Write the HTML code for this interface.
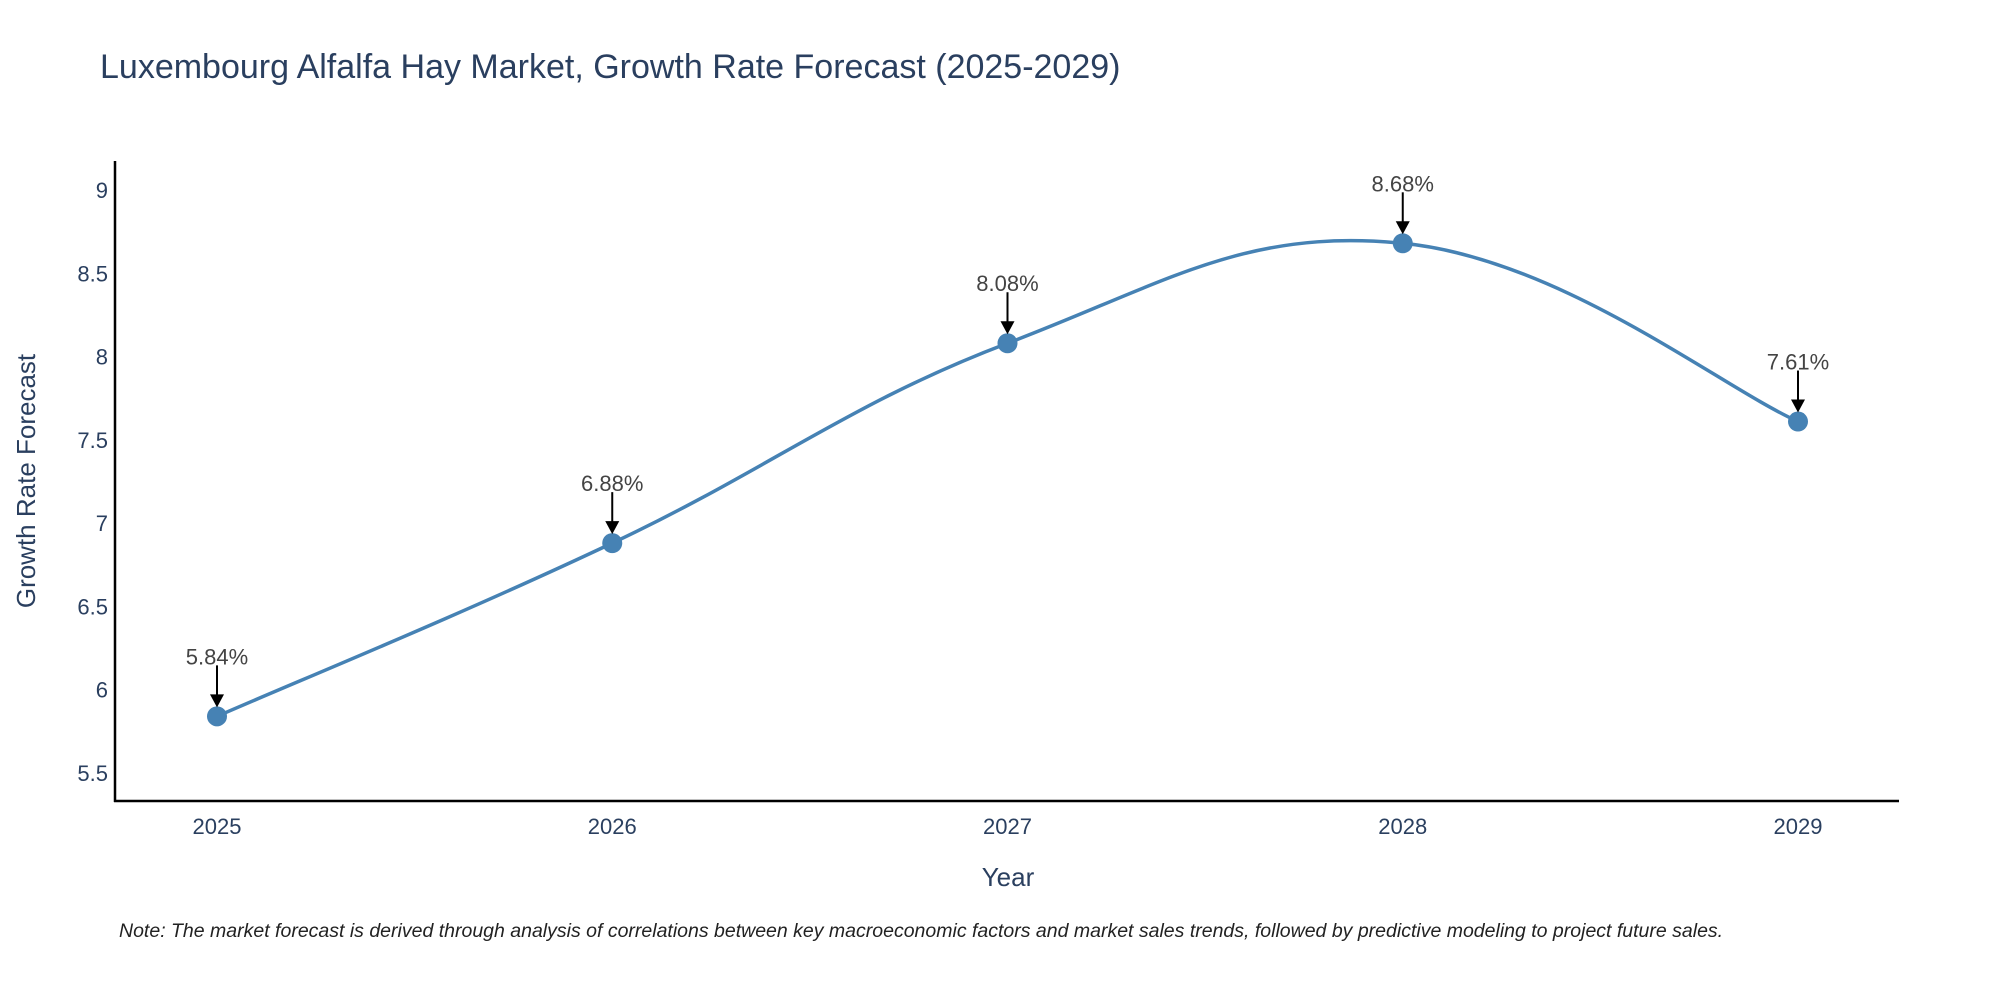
<!DOCTYPE html>
<html><head><meta charset="utf-8"><style>
body{margin:0;background:#fff;}
svg text{font-family:"Liberation Sans",sans-serif;}
</style></head><body>
<svg id="chart" width="2000" height="1000" xmlns="http://www.w3.org/2000/svg">
<text x="100" y="78" font-size="34" fill="#2a3f5f">Luxembourg Alfalfa Hay Market, Growth Rate Forecast (2025-2029)</text>
<g id="yticks"></g><g id="xticks"></g>
<line x1="115" y1="161" x2="115" y2="802" stroke="#000" stroke-width="2.5"/>
<line x1="114" y1="801" x2="1899" y2="801" stroke="#000" stroke-width="2.5"/>
<path id="line" fill="none" stroke="#4682b4" stroke-width="3.5"/>
<g id="marks"></g>
<text x="1008" y="886" font-size="26" fill="#2a3f5f" text-anchor="middle">Year</text>
<text transform="translate(35,481) rotate(-90)" font-size="26" fill="#2a3f5f" text-anchor="middle">Growth Rate Forecast</text>
<text x="119" y="937" font-size="19.5" font-style="italic" fill="#222">Note: The market forecast is derived through analysis of correlations between key macroeconomic factors and market sales trends, followed by predictive modeling to project future sales.</text>
</svg>
<script>
const years=[2025,2026,2027,2028,2029];
const values=[5.84,6.88,8.08,8.68,7.61];
const yTicks=[5.5,6,6.5,7,7.5,8,8.5,9];
const yTickLabels=["5.5","6","6.5","7","7.5","8","8.5","9"];
const NS="http://www.w3.org/2000/svg";
const xS=v=>217+(v-2025)*(1798-217)/4;
const yS=v=>773-(v-5.5)*(773-190)/3.5;
function mk(t,a,p){const e=document.createElementNS(NS,t);for(const k in a)e.setAttribute(k,a[k]);p.appendChild(e);return e;}
const yt=document.getElementById('yticks');
yTicks.forEach((v,i)=>{const t=mk('text',{x:108,y:yS(v)+8,'font-size':22,fill:'#2a3f5f','text-anchor':'end'},yt);t.textContent=yTickLabels[i];

});
const xt=document.getElementById('xticks');
years.forEach(v=>{const t=mk('text',{x:xS(v),y:834,'font-size':22,fill:'#2a3f5f','text-anchor':'middle'},xt);t.textContent=v;

});
const P=years.map((y,i)=>[xS(y),yS(values[i])]);
let d=`M${P[0][0]},${P[0][1]}`;const s=0.2;
for(let i=0;i<P.length-1;i++){const p0=P[Math.max(i-1,0)],p1=P[i],p2=P[i+1],p3=P[Math.min(i+2,P.length-1)];
d+=` C${p1[0]+(p2[0]-p0[0])*s},${p1[1]+(p2[1]-p0[1])*s} ${p2[0]-(p3[0]-p1[0])*s},${p2[1]-(p3[1]-p1[1])*s} ${p2[0]},${p2[1]}`;}
document.getElementById('line').setAttribute('d',d);
const g=document.getElementById('marks');
P.forEach((p,i)=>{
const c=mk('circle',{cx:p[0],cy:p[1],r:10,fill:'#4682b4'},g);


const l=mk('line',{x1:p[0],y1:p[1]-51,x2:p[0],y2:p[1]-20,stroke:'#000','stroke-width':2},g);


const a=mk('polygon',{points:`${p[0]-7},${p[1]-22} ${p[0]+7},${p[1]-22} ${p[0]},${p[1]-9}`,fill:'#000'},g);


const t=mk('text',{x:p[0],y:p[1]-52,'font-size':22,fill:'#444','text-anchor':'middle'},g);t.textContent=values[i].toFixed(2)+'%';


});
</script>
</body></html>
